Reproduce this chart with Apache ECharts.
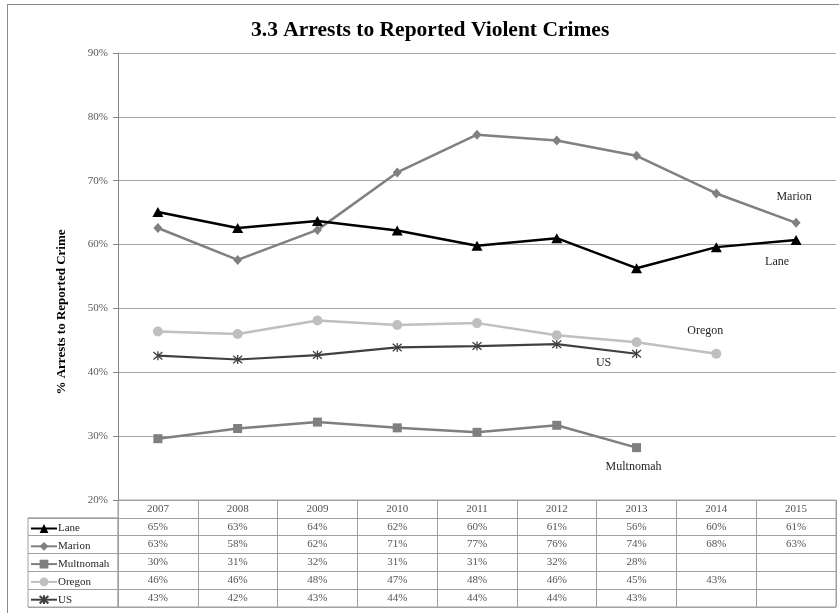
<!DOCTYPE html>
<html>
<head>
<meta charset="utf-8">
<script src="https://cdn.jsdelivr.net/npm/echarts@6/dist/echarts.min.js"></script>
<style>
html,body{margin:0;padding:0;background:#fff;}
#frame{position:absolute;left:7px;top:4px;width:840px;height:620px;border:1px solid #8c8c8c;box-sizing:border-box;}
#chart{position:absolute;left:0;top:0;width:839px;height:613px;}
</style>
</head>
<body>
<div id="frame"></div>
<div id="chart"></div>
<script>
// ---- data ----
const years = ['2007','2008','2009','2010','2011','2012','2013','2014','2015'];
const seriesNames = ['Lane','Marion','Multnomah','Oregon','US'];
const lane      = [65.1, 62.6, 63.7, 62.2, 59.8, 61.0, 56.3, 59.6, 60.7];
const marion    = [62.6, 57.6, 62.3, 71.3, 77.2, 76.3, 73.9, 68.0, 63.4];
const multnomah = [29.6, 31.2, 32.2, 31.3, 30.6, 31.7, 28.2, null, null];
const oregon    = [46.4, 46.0, 48.1, 47.4, 47.7, 45.8, 44.7, 42.9, null];
const us        = [42.6, 42.0, 42.7, 43.9, 44.1, 44.4, 42.9, null, null];
const yMin = 20, yMax = 90, yStep = 10;
const titleText = '3.3 Arrests to Reported Violent Crimes';
const yAxisTitle = '% Arrests to Reported Crime';

// ---- styles ----
const FONT = 'Liberation Serif';
const values = [lane, marion, multnomah, oregon, us];
const styles = [
  {color:'#000000', width:2.5, symbol:'triangle', size:[11,10]},
  {color:'#808080', width:2.5, symbol:'diamond', size:[9,10]},
  {color:'#7f7f7f', width:2.5, symbol:'rect', size:9},
  {color:'#bfbfbf', width:2.5, symbol:'circle', size:10},
  {color:'#404040', width:2.2, symbol:'path://M0,0L10,10M10,0L0,10M5,-1L5,11', size:9}
];
// name label placed next to one point of each line
const nameLabels = [
  {idx:8, offset:[-19,22]},
  {idx:8, offset:[-2,-26]},
  {idx:6, offset:[-3,19]},
  {idx:7, offset:[-11,-23]},
  {idx:6, offset:[-33,9]}
];

const lineSeries = seriesNames.map((name, s) => ({
  name: name,
  type: 'line',
  xAxisIndex: 0, yAxisIndex: 0,
  symbol: styles[s].symbol,
  symbolSize: styles[s].size,
  lineStyle: {color: styles[s].color, width: styles[s].width},
  itemStyle: {color: styles[s].color, borderColor: styles[s].color, borderWidth: s === 4 ? 1.3 : 0},
  connectNulls: false,
  z: 10 - s,
  data: values[s].map((v, i) => {
    if (i === nameLabels[s].idx) {
      return {value: v, label: {show: true, position: 'inside', offset: nameLabels[s].offset,
        formatter: name, color: '#262626', fontFamily: FONT, fontSize: 12}};
    }
    return v;
  })
}));

// table cells
const rowCats = ['', ...seriesNames];
const cellData = [];
years.forEach((y, i) => cellData.push({value: [i, 0], text: y}));
values.forEach((arr, s) => arr.forEach((v, i) => {
  if (v !== null) cellData.push({value: [i, s + 1], text: Math.round(v) + '%'});
}));

const gridLine = '#a6a6a6';
const tableLine = '#a0a0a0';

const option = {
  animation: false,
  backgroundColor: 'transparent',
  title: {
    text: titleText, left: 246, top: 14,
    textStyle: {fontFamily: FONT, fontSize: 21.5, fontWeight: 'bold', color: '#000'}
  },
  legend: {
    orient: 'vertical', left: 30, top: 523, padding: 0,
    itemWidth: 26, itemHeight: 11, itemGap: 6.8,
    data: seriesNames,
    textStyle: {fontFamily: FONT, fontSize: 11, color: '#262626', padding: [0,0,0,-4]},
    selectedMode: false
  },
  grid: [
    {left: 118, right: 3, top: 53, bottom: 113},
    {left: 118, right: 3, top: 500, height: 107, show: true, borderColor: tableLine, borderWidth: 1},
    {left: 28, width: 90, top: 500 + 107/6, height: 107*5/6, show: true, borderColor: tableLine, borderWidth: 1}
  ],
  xAxis: [
    {gridIndex: 0, type: 'category', data: years, boundaryGap: true,
     axisLine: {show: false}, axisTick: {show: false}, axisLabel: {show: false}, splitLine: {show: false}},
    {gridIndex: 1, type: 'category', data: years, boundaryGap: true,
     axisLine: {show: false}, axisTick: {show: false}, axisLabel: {show: false},
     splitLine: {show: true, interval: 0, lineStyle: {color: tableLine, width: 1}}},
    {gridIndex: 2, type: 'value', show: false, min: 0, max: 1}
  ],
  yAxis: [
    {gridIndex: 0, type: 'value', min: yMin, max: yMax, interval: yStep,
     axisLine: {show: true, lineStyle: {color: '#868686'}},
     axisTick: {show: true, length: 5, lineStyle: {color: '#868686'}},
     axisLabel: {formatter: '{value}%', fontFamily: FONT, fontSize: 11, color: '#595959', margin: 10},
     splitLine: {show: true, lineStyle: {color: gridLine, width: 1}},
     name: yAxisTitle, nameLocation: 'middle', nameRotate: 90, nameGap: 50,
     nameTextStyle: {fontFamily: FONT, fontSize: 13, fontWeight: 'bold', color: '#000', padding: [0, 71, 0, 0]}},
    {gridIndex: 1, type: 'category', data: rowCats, inverse: true, boundaryGap: true,
     axisLine: {show: false}, axisTick: {show: false}, axisLabel: {show: false},
     splitLine: {show: true, interval: 0, lineStyle: {color: tableLine, width: 1}}},
    {gridIndex: 2, type: 'category', data: seriesNames, inverse: true, boundaryGap: true,
     axisLine: {show: false}, axisTick: {show: false}, axisLabel: {show: false},
     splitLine: {show: true, interval: 0, lineStyle: {color: tableLine, width: 1}}}
  ],
  series: [
    ...lineSeries,
    {
      type: 'scatter', xAxisIndex: 1, yAxisIndex: 1,
      symbolSize: 1, itemStyle: {color: 'rgba(0,0,0,0)'},
      silent: true,
      data: cellData,
      label: {show: true, position: 'inside', formatter: p => p.data.text,
        fontFamily: FONT, fontSize: 11, color: '#262626'}
    }
  ]
};

const chart = echarts.init(document.getElementById('chart'), null, {renderer: 'canvas'});
chart.setOption(option);
</script>
</body>
</html>
